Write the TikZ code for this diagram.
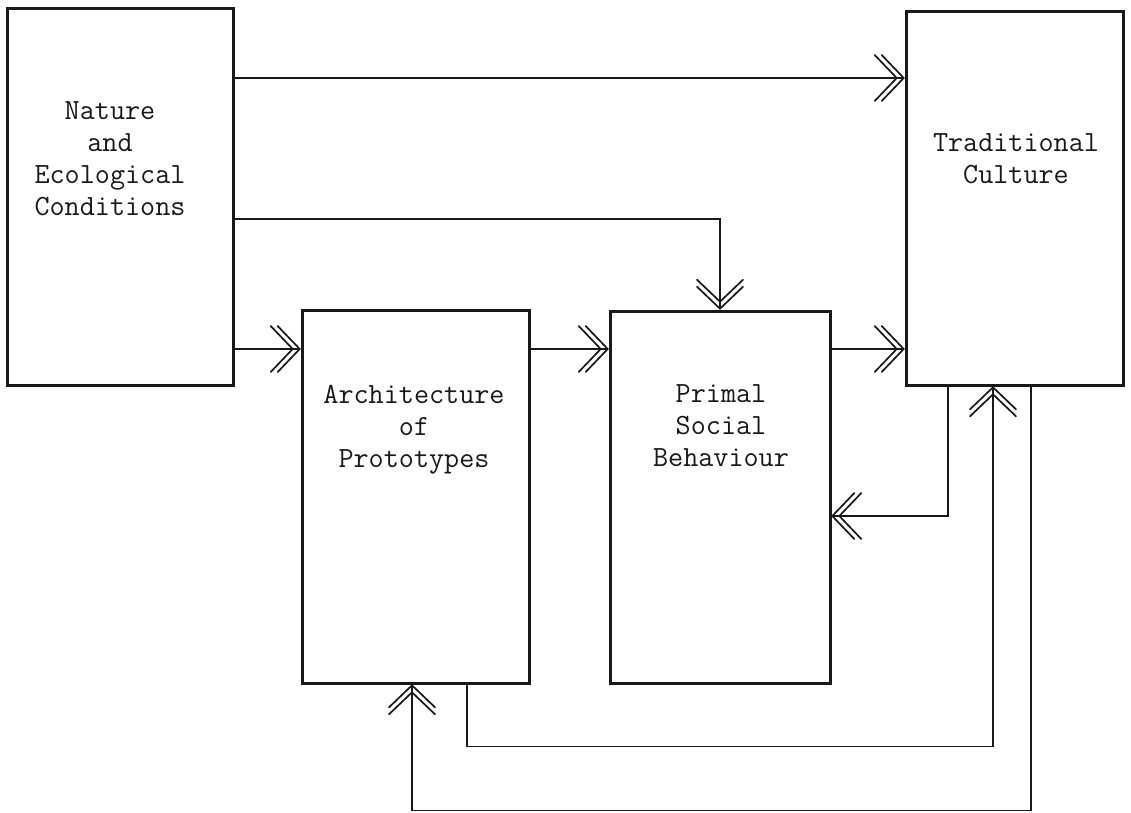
\documentclass[tikz,border=0pt]{standalone}
\usepackage{fontspec}
\usetikzlibrary{arrows.meta}
\pgfdeclarearrow{
  name = DChev,
  setup code = {
    \pgfarrowssettipend{0.8pt}
    \pgfarrowssetlineend{0pt}
    \pgfarrowssetvisualbackend{-29pt}
    \pgfarrowssetbackend{-29pt}
    \pgfarrowshullpoint{0.8pt}{0pt}
    \pgfarrowsupperhullpoint{-29pt}{23pt}
  },
  drawing code = {
    \pgfsetdash{}{0pt}
    \pgfsetroundcap
    \pgfsetmiterjoin
    \pgfpathmoveto{\pgfpoint{-22pt}{23pt}}
    \pgfpathlineto{\pgfpointorigin}
    \pgfpathlineto{\pgfpoint{-22pt}{-23pt}}
    \pgfpathmoveto{\pgfpoint{-29pt}{23pt}}
    \pgfpathlineto{\pgfpoint{-7pt}{0pt}}
    \pgfpathlineto{\pgfpoint{-29pt}{-23pt}}
    \pgfusepathqstroke
  },
}
\tikzset{
  box/.style={draw=black!90, line width=3pt, inner sep=0pt},
  conn/.style={draw=black!90, line width=1.7pt, -DChev},
  lbl/.style={font=\ttfamily\fontsize{29.3pt}{32pt}\selectfont, align=center, inner sep=0pt, text=black!90},
}
\begin{document}
\begin{tikzpicture}[x=1pt, y=-1pt]
\useasboundingbox (0,0) rectangle (1131,812);
\fill[white] (0,0) rectangle (1131,812);

\node[box, minimum width=226pt, minimum height=377pt] (N) at (120,196.5) {};
\node[box, minimum width=217pt, minimum height=374pt] (T) at (1014.5,198) {};
\node[box, minimum width=227pt, minimum height=373pt] (A) at (415.5,496.5) {};
\node[box, minimum width=220pt, minimum height=372pt] (P) at (720,497) {};

\node[lbl, anchor=base] (Nt) at (110,215) {Nature\\and\\Ecological\\Conditions};
\node[lbl, anchor=base] (Tt) at (1016,183) {Traditional\\Culture};
\node[lbl, anchor=base] (At) at (414,467) {Architecture\\of\\Prototypes};
\node[lbl, anchor=base] (Pt) at (721,466) {Primal\\Social\\Behaviour};

\draw[conn] (N.east |- 0,78) -- (T.west |- 0,78);
\draw[conn] (N.east |- 0,219) -| (P.north);
\draw[conn] (N.east |- 0,349) -- (A.west |- 0,349);
\draw[conn] (A.east |- 0,349) -- (P.west |- 0,349);
\draw[conn] (P.east |- 0,349) -- (T.west |- 0,349);
\draw[conn] (T.south -| 948,0) |- (P.east |- 0,516);
\draw[conn] (A.south -| 467,0) -- ++(0,62) -| (T.south -| 993,0);
\draw[conn] (T.south -| 1031,0) -- ++(0,424) -| (A.south -| 412,0);
\end{tikzpicture}
\end{document}
